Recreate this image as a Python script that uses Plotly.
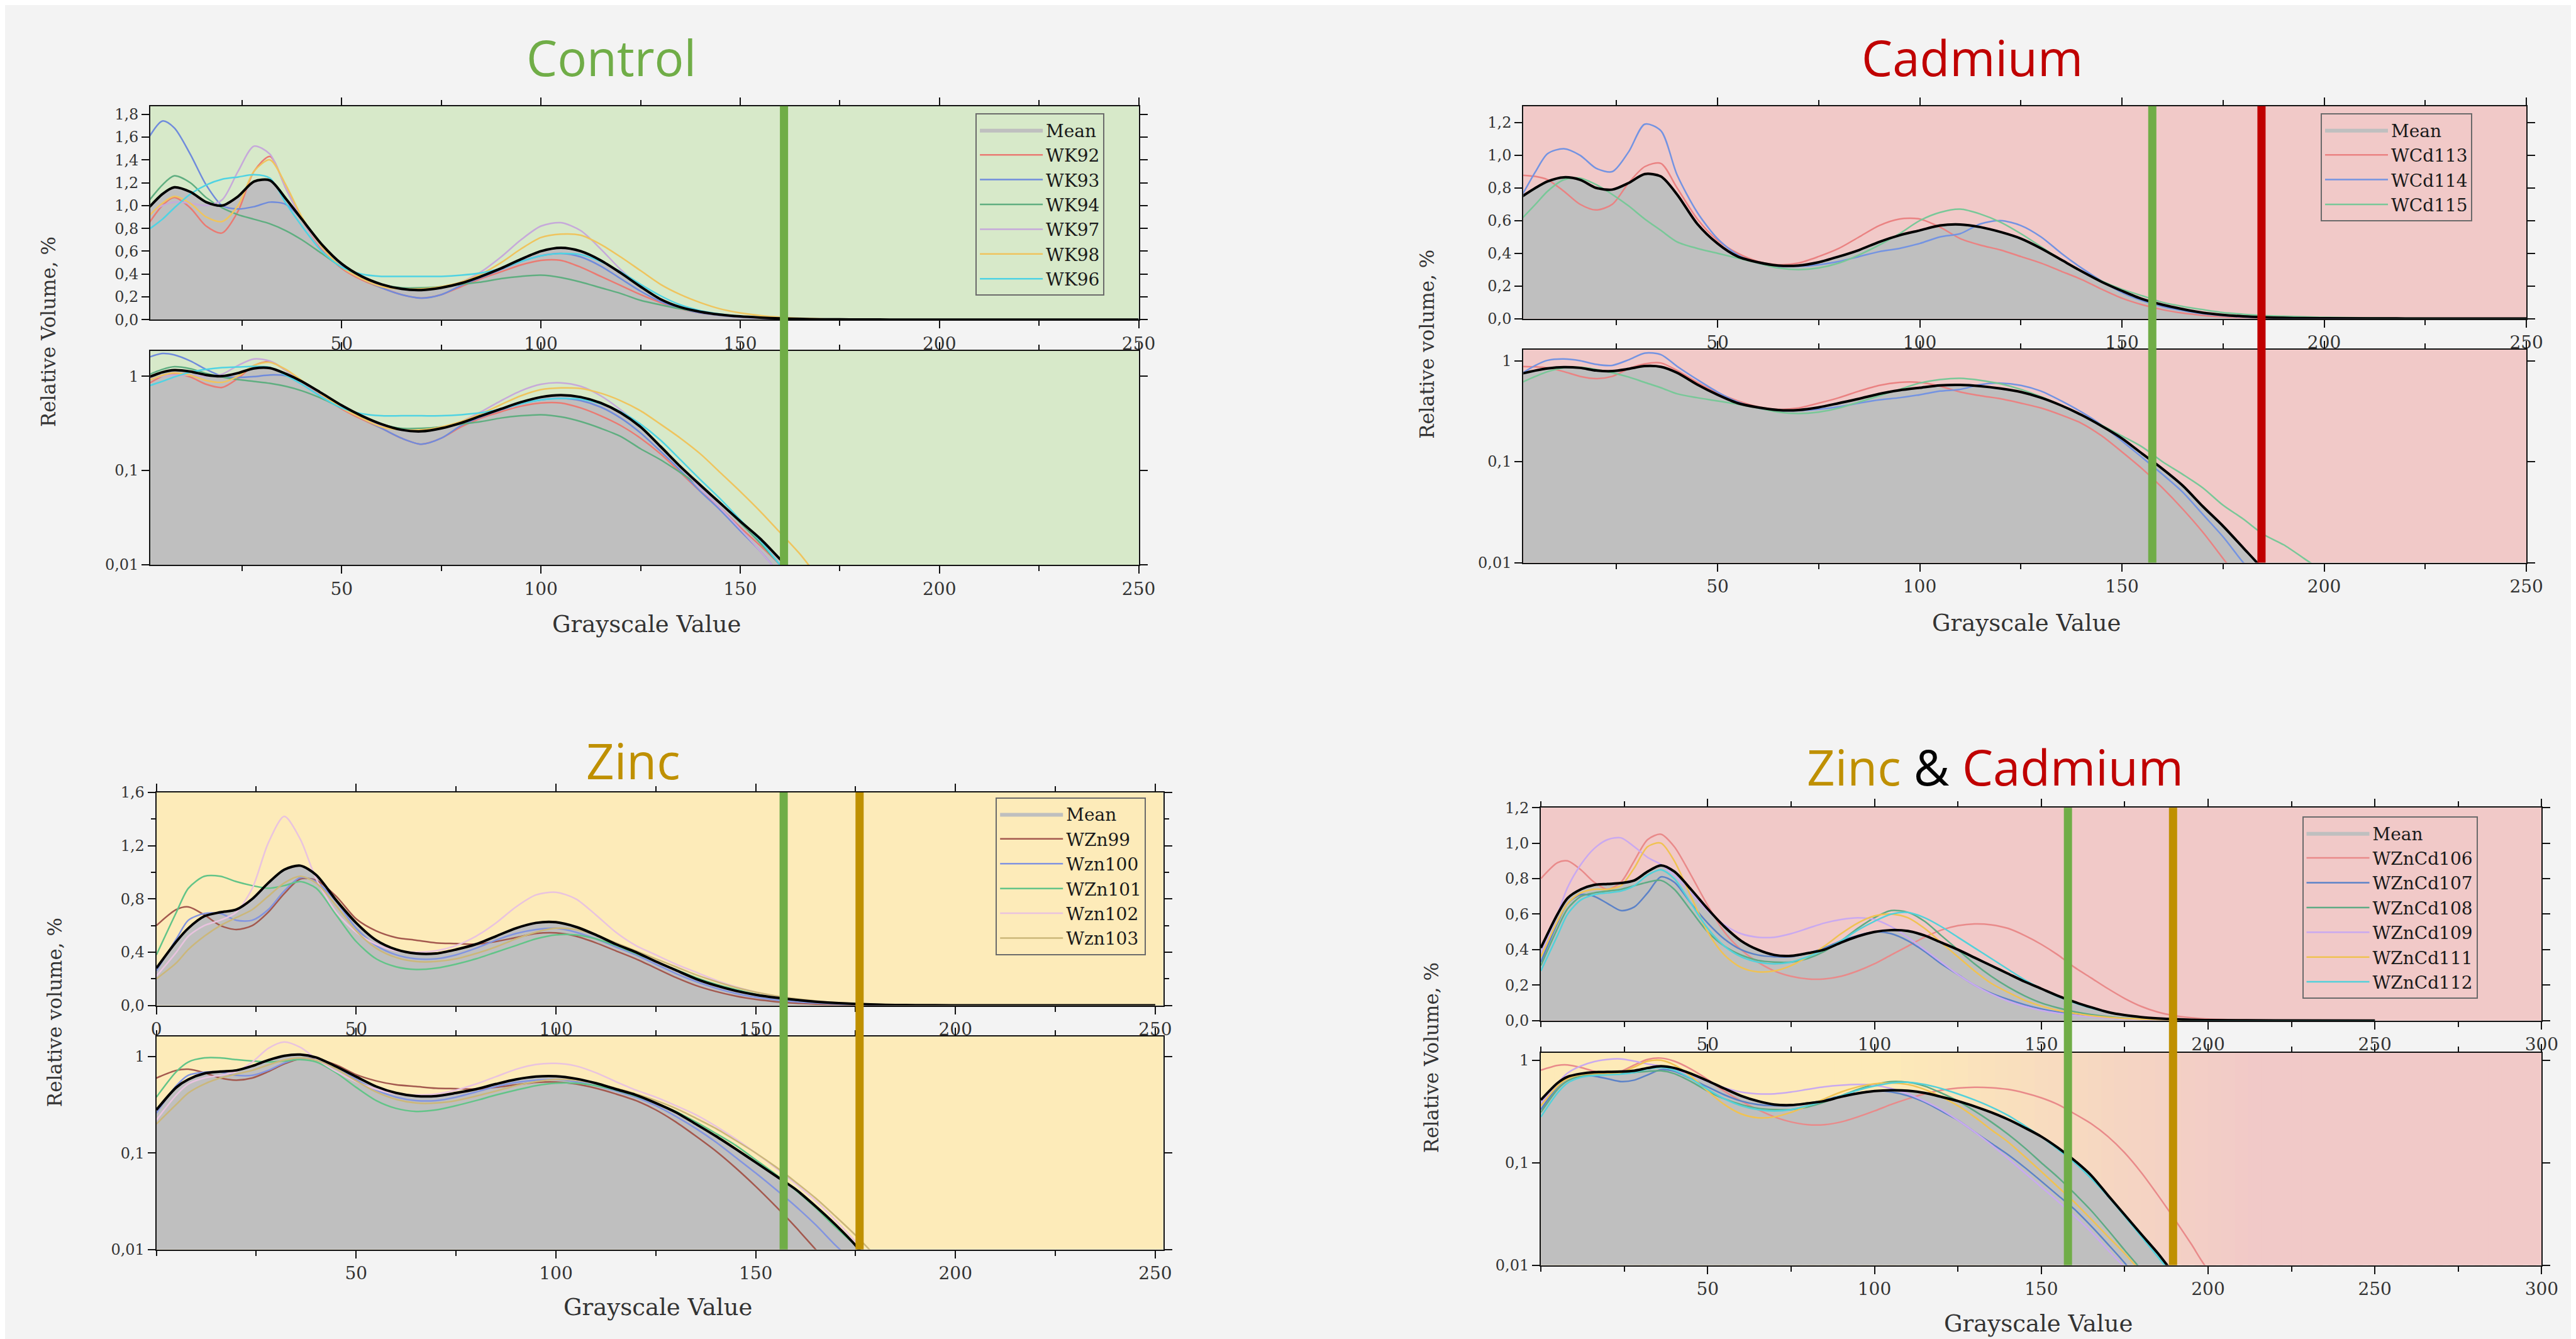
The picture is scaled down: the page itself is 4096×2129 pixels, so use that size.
import plotly.graph_objects as go

REF_W, REF_H = 4679, 2432
OUT_W, OUT_H = 4096, 2129

# ---------------- data ----------------
grayscale = [0, 5, 8, 12, 16, 20, 24, 28, 32, 36, 40, 45, 50, 55, 60, 65, 70, 75, 80, 85,
             90, 95, 100, 105, 110, 115, 120, 125, 130, 135, 140, 145, 150, 155, 160, 165,
             170, 175, 180, 185, 190, 195, 200, 220, 250]

# Control
control_names = ["WK92", "WK93", "WK94", "WK97", "WK98", "WK96"]
control_mean = [0.92, 1.10, 1.16, 1.12, 1.03, 1.00, 1.08, 1.21, 1.22, 1.06,
                0.88, 0.66, 0.49, 0.38, 0.31, 0.27, 0.26, 0.28, 0.32, 0.38,
                0.45, 0.53, 0.60, 0.63, 0.60, 0.52, 0.41, 0.29, 0.18, 0.11,
                0.07, 0.045, 0.029, 0.019, 0.0115, 0.007, 0.004, 0.003, 0.002, 0.0015,
                0.001, 0.0008, 0.0006, 0.0003, 0.0002]
wk92 = [0.76, 1.00, 1.07, 0.98, 0.82, 0.76, 0.95, 1.30, 1.43, 1.15,
        0.88, 0.62, 0.45, 0.35, 0.28, 0.22, 0.19, 0.22, 0.29, 0.36,
        0.42, 0.48, 0.52, 0.52, 0.46, 0.38, 0.30, 0.22, 0.15, 0.095,
        0.06, 0.04, 0.025, 0.016, 0.010, 0.006, 0.003, 0.002, 0.0015, 0.0012,
        0.001, 0.0007, 0.0005, 0.0003, 0.0002]
wk93 = [1.50, 1.74, 1.68, 1.45, 1.18, 1.00, 0.97, 0.99, 1.03, 1.01,
        0.88, 0.66, 0.48, 0.36, 0.28, 0.22, 0.19, 0.22, 0.30, 0.37,
        0.44, 0.51, 0.56, 0.58, 0.55, 0.47, 0.36, 0.25, 0.16, 0.10,
        0.06, 0.038, 0.023, 0.014, 0.008, 0.005, 0.003, 0.002, 0.0015, 0.0012,
        0.001, 0.0007, 0.0005, 0.0003, 0.0002]
wk94 = [0.97, 1.18, 1.26, 1.20, 1.07, 0.98, 0.92, 0.88, 0.84, 0.78,
        0.70, 0.58, 0.46, 0.37, 0.31, 0.28, 0.28, 0.29, 0.31, 0.33,
        0.36, 0.38, 0.39, 0.37, 0.33, 0.28, 0.23, 0.17, 0.13, 0.095,
        0.068, 0.045, 0.028, 0.017, 0.010, 0.006, 0.003, 0.002, 0.0015, 0.0012,
        0.001, 0.0007, 0.0005, 0.0003, 0.0002]
wk97 = [0.88, 1.00, 1.03, 1.02, 1.00, 1.05, 1.30, 1.52, 1.45, 1.15,
        0.88, 0.63, 0.46, 0.36, 0.30, 0.27, 0.26, 0.28, 0.33, 0.42,
        0.55, 0.70, 0.82, 0.85, 0.78, 0.62, 0.44, 0.29, 0.18, 0.11,
        0.065, 0.04, 0.024, 0.014, 0.008, 0.005, 0.003, 0.002, 0.0015, 0.0012,
        0.001, 0.0007, 0.0005, 0.0003, 0.0002]
wk98 = [0.85, 1.02, 1.08, 1.02, 0.90, 0.86, 1.00, 1.30, 1.40, 1.18,
        0.90, 0.64, 0.46, 0.36, 0.29, 0.27, 0.27, 0.29, 0.33, 0.40,
        0.50, 0.62, 0.72, 0.75, 0.74, 0.66, 0.55, 0.43, 0.31, 0.22,
        0.15, 0.095, 0.06, 0.037, 0.022, 0.013, 0.007, 0.004, 0.002, 0.0015,
        0.001, 0.0007, 0.0005, 0.0003, 0.0002]
wk96 = [0.75, 0.88, 0.98, 1.10, 1.18, 1.23, 1.25, 1.27, 1.24, 1.02,
        0.82, 0.60, 0.46, 0.40, 0.38, 0.38, 0.38, 0.38, 0.39, 0.41,
        0.45, 0.51, 0.56, 0.58, 0.57, 0.51, 0.42, 0.31, 0.21, 0.13,
        0.08, 0.05, 0.03, 0.018, 0.010, 0.006, 0.003, 0.002, 0.0015, 0.0012,
        0.001, 0.0007, 0.0005, 0.0003, 0.0002]

# Cadmium
cd_names = ["WCd113", "WCd114", "WCd115"]
cd_mean = [0.72, 0.80, 0.84, 0.865, 0.85, 0.80, 0.79, 0.83, 0.885, 0.87,
           0.76, 0.58, 0.46, 0.38, 0.345, 0.325, 0.325, 0.345, 0.38, 0.42,
           0.47, 0.51, 0.54, 0.57, 0.576, 0.56, 0.53, 0.49, 0.43, 0.36,
           0.29, 0.225, 0.17, 0.12, 0.085, 0.058, 0.036, 0.023, 0.014, 0.0085,
           0.005, 0.003, 0.002, 0.001, 0.0005]
wcd113 = [0.88, 0.87, 0.85, 0.78, 0.70, 0.665, 0.70, 0.83, 0.93, 0.95,
          0.80, 0.61, 0.48, 0.40, 0.35, 0.33, 0.34, 0.38, 0.43, 0.50,
          0.57, 0.61, 0.61, 0.56, 0.49, 0.45, 0.42, 0.38, 0.34, 0.29,
          0.24, 0.18, 0.125, 0.085, 0.055, 0.034, 0.020, 0.011, 0.006, 0.0035,
          0.002, 0.0012, 0.0008, 0.0004, 0.0002]
wcd114 = [0.68, 0.90, 1.01, 1.04, 1.00, 0.92, 0.90, 1.02, 1.19, 1.15,
          0.88, 0.65, 0.49, 0.39, 0.34, 0.32, 0.32, 0.33, 0.35, 0.38,
          0.41, 0.43, 0.46, 0.50, 0.52, 0.58, 0.60, 0.57, 0.50, 0.40,
          0.31, 0.23, 0.16, 0.11, 0.075, 0.05, 0.03, 0.018, 0.010, 0.006,
          0.0035, 0.002, 0.0012, 0.0005, 0.0002]
wcd115 = [0.57, 0.70, 0.78, 0.85, 0.86, 0.82, 0.76, 0.69, 0.61, 0.54,
          0.47, 0.43, 0.40, 0.37, 0.34, 0.31, 0.30, 0.31, 0.34, 0.39,
          0.45, 0.52, 0.60, 0.65, 0.67, 0.64, 0.59, 0.52, 0.44, 0.36,
          0.29, 0.23, 0.18, 0.14, 0.10, 0.075, 0.055, 0.037, 0.027, 0.019,
          0.015, 0.011, 0.008, 0.002, 0.0005]

# Zinc
zn_names = ["WZn99", "Wzn100", "WZn101", "Wzn102", "Wzn103"]
zn_mean = [0.28, 0.48, 0.58, 0.67, 0.70, 0.72, 0.80, 0.92, 1.02, 1.05,
           0.98, 0.79, 0.62, 0.49, 0.42, 0.39, 0.39, 0.42, 0.46, 0.52,
           0.58, 0.62, 0.625, 0.59, 0.53, 0.46, 0.40, 0.33, 0.265, 0.20,
           0.15, 0.11, 0.08, 0.058, 0.042, 0.028, 0.018, 0.011, 0.006, 0.0035,
           0.002, 0.0012, 0.0008, 0.0003, 0.0001]
wzn99 = [0.60, 0.72, 0.74, 0.68, 0.60, 0.57, 0.60, 0.70, 0.84, 0.95,
         0.94, 0.82, 0.65, 0.56, 0.51, 0.49, 0.47, 0.465, 0.46, 0.48,
         0.51, 0.54, 0.545, 0.52, 0.47, 0.41, 0.35, 0.28, 0.21, 0.15,
         0.105, 0.07, 0.045, 0.028, 0.017, 0.010, 0.006, 0.0035, 0.002, 0.0012,
         0.0008, 0.0005, 0.0004, 0.0002, 0.0001]
wzn100 = [0.26, 0.50, 0.64, 0.69, 0.69, 0.64, 0.64, 0.72, 0.86, 0.96,
          0.93, 0.78, 0.58, 0.45, 0.38, 0.35, 0.35, 0.38, 0.43, 0.49,
          0.54, 0.57, 0.58, 0.55, 0.50, 0.44, 0.38, 0.31, 0.24, 0.18,
          0.13, 0.09, 0.062, 0.042, 0.028, 0.018, 0.011, 0.007, 0.004, 0.0025,
          0.0015, 0.001, 0.0007, 0.0003, 0.0001]
wzn101 = [0.38, 0.70, 0.88, 0.97, 0.97, 0.93, 0.90, 0.88, 0.90, 0.93,
          0.88, 0.68, 0.48, 0.35, 0.29, 0.27, 0.28, 0.31, 0.35, 0.40,
          0.45, 0.50, 0.53, 0.53, 0.50, 0.45, 0.39, 0.33, 0.27, 0.21,
          0.16, 0.12, 0.085, 0.06, 0.041, 0.027, 0.017, 0.011, 0.0075, 0.004,
          0.0025, 0.0015, 0.001, 0.0004, 0.0001]
wzn102 = [0.22, 0.40, 0.52, 0.60, 0.64, 0.70, 0.88, 1.22, 1.42, 1.25,
          0.95, 0.70, 0.55, 0.46, 0.41, 0.40, 0.41, 0.45, 0.52, 0.62,
          0.74, 0.83, 0.85, 0.80, 0.68, 0.55, 0.45, 0.38, 0.31, 0.25,
          0.19, 0.14, 0.10, 0.07, 0.048, 0.032, 0.02, 0.012, 0.007, 0.004,
          0.0025, 0.0015, 0.001, 0.0004, 0.0001]
wzn103 = [0.20, 0.32, 0.42, 0.52, 0.60, 0.66, 0.72, 0.82, 0.92, 0.97,
          0.92, 0.75, 0.56, 0.43, 0.36, 0.33, 0.33, 0.35, 0.39, 0.44,
          0.50, 0.55, 0.58, 0.57, 0.53, 0.47, 0.41, 0.35, 0.29, 0.23,
          0.18, 0.135, 0.10, 0.072, 0.05, 0.034, 0.022, 0.014, 0.0085, 0.005,
          0.003, 0.002, 0.0012, 0.0004, 0.0001]

# Zinc & Cadmium
zncd_names = ["WZnCd106", "WZnCd107", "WZnCd108", "WZnCd109", "WZnCd111", "WZnCd112"]
zncd_mean = [0.41, 0.60, 0.69, 0.74, 0.765, 0.77, 0.775, 0.79, 0.84, 0.875,
             0.84, 0.74, 0.63, 0.53, 0.45, 0.40, 0.37, 0.365, 0.38, 0.40,
             0.44, 0.475, 0.50, 0.51, 0.505, 0.48, 0.44, 0.40, 0.355, 0.31,
             0.265, 0.22, 0.18, 0.14, 0.105, 0.075, 0.048, 0.031, 0.020, 0.013,
             0.008, 0.005, 0.003, 0.001, 0.0003]
wzncd106 = [0.80, 0.89, 0.90, 0.85, 0.78, 0.74, 0.78, 0.90, 1.02, 1.05,
            0.98, 0.82, 0.65, 0.50, 0.40, 0.33, 0.28, 0.25, 0.235, 0.235,
            0.25, 0.28, 0.32, 0.37, 0.42, 0.47, 0.51, 0.535, 0.545, 0.54,
            0.52, 0.48, 0.43, 0.37, 0.30, 0.24, 0.18, 0.125, 0.08, 0.048,
            0.028, 0.016, 0.009, 0.002, 0.0005]
wzncd107 = [0.33, 0.55, 0.66, 0.71, 0.70, 0.66, 0.62, 0.64, 0.72, 0.81,
            0.78, 0.66, 0.55, 0.46, 0.40, 0.37, 0.36, 0.36, 0.38, 0.41,
            0.45, 0.48, 0.50, 0.49, 0.45, 0.39, 0.32, 0.26, 0.20, 0.155,
            0.12, 0.09, 0.066, 0.048, 0.035, 0.024, 0.016, 0.0105, 0.0065, 0.004,
            0.0025, 0.0015, 0.001, 0.0003, 0.0001]
wzncd108 = [0.31, 0.52, 0.63, 0.70, 0.72, 0.73, 0.74, 0.76, 0.78, 0.79,
            0.74, 0.62, 0.50, 0.42, 0.37, 0.34, 0.33, 0.33, 0.35, 0.39,
            0.45, 0.52, 0.58, 0.62, 0.61, 0.56, 0.48, 0.40, 0.32, 0.25,
            0.19, 0.14, 0.10, 0.072, 0.05, 0.034, 0.022, 0.014, 0.009, 0.0055,
            0.0035, 0.002, 0.0012, 0.0004, 0.0001]
wzncd109 = [0.38, 0.60, 0.75, 0.88, 0.97, 1.02, 1.03, 0.98, 0.92, 0.88,
            0.82, 0.72, 0.62, 0.54, 0.49, 0.47, 0.47, 0.49, 0.52, 0.55,
            0.57, 0.58, 0.57, 0.53, 0.47, 0.40, 0.33, 0.26, 0.20, 0.15,
            0.11, 0.08, 0.058, 0.042, 0.030, 0.021, 0.014, 0.0095, 0.006, 0.004,
            0.0025, 0.0015, 0.001, 0.0003, 0.0001]
wzncd111 = [0.36, 0.56, 0.66, 0.72, 0.74, 0.74, 0.76, 0.86, 0.98, 1.00,
            0.90, 0.70, 0.50, 0.37, 0.30, 0.275, 0.28, 0.31, 0.36, 0.42,
            0.49, 0.55, 0.59, 0.60, 0.58, 0.52, 0.44, 0.36, 0.28, 0.21,
            0.16, 0.115, 0.082, 0.058, 0.041, 0.028, 0.019, 0.013, 0.0085, 0.0055,
            0.0035, 0.002, 0.0012, 0.0004, 0.0001]
wzncd112 = [0.28, 0.48, 0.60, 0.68, 0.71, 0.72, 0.73, 0.76, 0.82, 0.85,
            0.80, 0.66, 0.52, 0.42, 0.36, 0.33, 0.32, 0.33, 0.36, 0.40,
            0.45, 0.51, 0.56, 0.60, 0.61, 0.58, 0.53, 0.47, 0.41, 0.35,
            0.29, 0.23, 0.18, 0.135, 0.10, 0.07, 0.047, 0.03, 0.019, 0.012,
            0.0075, 0.0045, 0.0028, 0.0008, 0.0002]

# threshold lines (grayscale value)
control_lines = [161]
cd_lines = [157.5, 184.5]
zn_lines = [157, 176]
zncd_lines = [158, 189.5]

x_ticks_250 = [50, 100, 150, 200, 250]
x_ticks_250_zero = [0, 50, 100, 150, 200, 250]
x_ticks_300 = [50, 100, 150, 200, 250, 300]
log_ticks = [0.01, 0.1, 1]
log_tick_text = ["0,01", "0,1", "1"]

# ---------------- style ----------------
GREEN, RED, GOLD = "#70ad47", "#c00000", "#bf9000"
SERIF = "DejaVu Serif"
TITLE_FONT = "Open Sans"
TXT = "#333333"


def fx(px):
    return px / REF_W


def fy(py):
    return 1 - py / REF_H


panels = [
    dict(title="<span style='color:%s'>Control</span>" % GREEN, tx=1101, ty=80,
         xpx=(256, 2067), top=(170, 563), bot=(620, 1014), xr=[2, 250],
         xt_top=x_ticks_250, xt_bot=x_ticks_250,
         ylin=[0, 1.87], ylin_dtick=0.2, ylin_minor=None, ylog=[-2, 0.27],
         bg="#d7e9c9", mean=control_mean,
         series=[wk92, wk93, wk94, wk97, wk98, wk96], names=control_names,
         colors=["#ea7a72", "#6f8bdc", "#5fae80", "#c6a9da", "#efc45e", "#4fd3e3"],
         lines=control_lines, line_colors=[GREEN],
         leg=(1768, 183), ytitle="Relative Volume, %", ytx=70, yty=585,
         xtx=1165, xty=1123),
    dict(title="<span style='color:%s'>Cadmium</span>" % RED, tx=3594, ty=80,
         xpx=(2772, 4610), top=(170, 561), bot=(618, 1010), xr=[2, 250],
         xt_top=x_ticks_250, xt_bot=x_ticks_250,
         ylin=[0, 1.3], ylin_dtick=0.2, ylin_minor=None, ylog=[-2, 0.11],
         bg="#f1c9c8", mean=cd_mean,
         series=[wcd113, wcd114, wcd115], names=cd_names,
         colors=["#ea8282", "#7393e2", "#78c898"],
         lines=cd_lines, line_colors=[GREEN, RED],
         leg=(4233, 183), ytitle="Relative volume, %", ytx=2596, yty=608,
         xtx=3694, xty=1121),
    dict(title="<span style='color:%s'>Zinc</span>" % GOLD, tx=1141, ty=1374,
         xpx=(267, 2112), top=(1433, 1825), bot=(1882, 2274), xr=[0, 252],
         xt_top=x_ticks_250_zero, xt_bot=x_ticks_250,
         ylin=[0, 1.6], ylin_dtick=0.4, ylin_minor=0.2, ylog=[-2, 0.21],
         bg="#fdebb9", mean=zn_mean,
         series=[wzn99, wzn100, wzn101, wzn102, wzn103], names=zn_names,
         colors=["#a3584e", "#8294e0", "#62c488", "#e9c3df", "#cbb77a"],
         lines=zn_lines, line_colors=[GREEN, GOLD],
         leg=(1805, 1442), ytitle="Relative volume, %", ytx=81, yty=1838,
         xtx=1186, xty=2381),
    dict(title="<span style='color:%s'>Zinc</span> <span style='color:#000000'>&amp;</span> "
               "<span style='color:%s'>Cadmium</span>" % (GOLD, RED), tx=3637, ty=1386,
         xpx=(2804, 4638), top=(1461, 1853), bot=(1912, 2303), xr=[0, 300],
         xt_top=x_ticks_300, xt_bot=x_ticks_300,
         ylin=[0, 1.2], ylin_dtick=0.2, ylin_minor=None, ylog=[-2, 0.074],
         bg="#f1c9c8", mean=zncd_mean,
         series=[wzncd106, wzncd107, wzncd108, wzncd109, wzncd111, wzncd112], names=zncd_names,
         colors=["#e98a8a", "#5b82c8", "#5eab84", "#c9a9f0", "#f0c252", "#52d1da"],
         lines=zncd_lines, line_colors=[GREEN, GOLD],
         leg=(4199, 1477), ytitle="Relative Volume, %", ytx=2603, yty=1921,
         xtx=3715, xty=2411, gradient=True),
]

fig = go.Figure()
layout = dict(
    width=OUT_W, height=OUT_H, autosize=False,
    margin=dict(l=0, r=0, t=0, b=0, pad=0),
    paper_bgcolor="#f3f3f3", plot_bgcolor="rgba(0,0,0,0)",
    separators=",.", showlegend=True,
)
shapes, annotations = [], []

axis_common = dict(showgrid=False, zeroline=False, showline=True, linecolor="#111111",
                   linewidth=2, mirror="ticks", ticks="outside", tickcolor="#111111",
                   tickwidth=2, ticklen=12)

for pi, p in enumerate(panels):
    nt, nb = 2 * pi + 1, 2 * pi + 2
    leg_name = "legend" if pi == 0 else "legend%d" % (pi + 1)
    for n, ypx, is_log in ((nt, p["top"], False), (nb, p["bot"], True)):
        xa = "x" if n == 1 else "x%d" % n
        ya = "y" if n == 1 else "y%d" % n
        xkey = "xaxis" if n == 1 else "xaxis%d" % n
        ykey = "yaxis" if n == 1 else "yaxis%d" % n
        layout[xkey] = dict(axis_common, domain=[fx(p["xpx"][0]), fx(p["xpx"][1])],
                            range=p["xr"], anchor=ya, tickmode="array",
                            tickvals=p["xt_bot"] if is_log else p["xt_top"],
                            tickfont=dict(family=SERIF, size=28, color=TXT),
                            minor=dict(dtick=25, tick0=0, ticks="outside", ticklen=8,
                                       tickcolor="#111111", tickwidth=2))
        ydict = dict(axis_common, domain=[fy(ypx[1]), fy(ypx[0])], anchor=xa,
                     tickfont=dict(family=SERIF, size=24, color=TXT))
        if is_log:
            ydict.update(type="log", range=p["ylog"], tickmode="array",
                         tickvals=log_ticks, ticktext=log_tick_text)
        else:
            ydict.update(range=p["ylin"], dtick=p["ylin_dtick"], tick0=0, tickformat=".1f")
            if p["ylin_minor"]:
                ydict["minor"] = dict(dtick=p["ylin_minor"], ticks="outside", ticklen=7,
                                      tickcolor="#111111", tickwidth=2)
        layout[ykey] = ydict

        # background
        if is_log and p.get("gradient"):
            step = 4
            x = p["xr"][0]
            while x < p["xr"][1]:
                t = min(max((x + step / 2 - 105) / 110.0, 0), 1)
                c0, c1 = (253, 234, 184), (241, 201, 200)
                col = "rgb(%d,%d,%d)" % tuple(round(a + (b - a) * t) for a, b in zip(c0, c1))
                shapes.append(dict(type="rect", xref=xa, yref=ya + " domain", x0=x,
                                   x1=min(x + step * 1.6, p["xr"][1]),
                                   y0=0, y1=1, fillcolor=col, line=dict(width=0), layer="below"))
                x += step
        else:
            shapes.append(dict(type="rect", xref=xa + " domain", yref=ya + " domain",
                               x0=0, x1=1, y0=0, y1=1, fillcolor=p["bg"],
                               line=dict(width=0), layer="below"))

        # mean fill
        fig.add_trace(go.Scatter(x=grayscale, y=p["mean"], xaxis=xa, yaxis=ya, name="Mean",
                                 mode="lines", fill="tozeroy", fillcolor="#bfbfbf",
                                 line=dict(width=0, color="#9a9a9a", shape="spline", smoothing=0.8),
                                 legend=leg_name, showlegend=not is_log))
        for s, nm, col in zip(p["series"], p["names"], p["colors"]):
            fig.add_trace(go.Scatter(x=grayscale, y=s, xaxis=xa, yaxis=ya, name=nm, mode="lines",
                                     line=dict(width=2.5, color=col, shape="spline", smoothing=0.8),
                                     legend=leg_name, showlegend=not is_log))
        fig.add_trace(go.Scatter(x=grayscale, y=p["mean"], xaxis=xa, yaxis=ya, name="Mean line",
                                 mode="lines",
                                 line=dict(width=4, color="#000000", shape="spline", smoothing=0.8),
                                 legend=leg_name, showlegend=False))

    # threshold lines spanning both plots
    xa_top = "x" if nt == 1 else "x%d" % nt
    for xv, lc in zip(p["lines"], p["line_colors"]):
        shapes.append(dict(type="line", xref=xa_top, yref="paper", x0=xv, x1=xv,
                           y0=fy(p["bot"][1]), y1=fy(p["top"][0]),
                           line=dict(color=lc, width=13), layer="above"))

    # legend
    layout[leg_name] = dict(x=fx(p["leg"][0]), y=fy(p["leg"][1]), xanchor="left", yanchor="top",
                            bgcolor="rgba(0,0,0,0)", bordercolor="#6a6a6a", borderwidth=2,
                            font=dict(family=SERIF, size=28, color="#1a1a1a"),
                            itemwidth=100, tracegroupgap=0)

    # texts
    annotations.append(dict(text=p["title"], x=fx(p["tx"]), y=fy(p["ty"]), xref="paper", yref="paper",
                            xanchor="center", yanchor="middle", showarrow=False,
                            font=dict(family=TITLE_FONT, size=78)))
    annotations.append(dict(text=p["ytitle"], x=fx(p["ytx"]), y=fy(p["yty"]), xref="paper",
                            yref="paper", xanchor="center", yanchor="middle", textangle=-90,
                            showarrow=False, font=dict(family=SERIF, size=31, color=TXT)))
    annotations.append(dict(text="Grayscale Value", x=fx(p["xtx"]), y=fy(p["xty"]), xref="paper",
                            yref="paper", xanchor="center", yanchor="middle", showarrow=False,
                            font=dict(family=SERIF, size=37, color=TXT)))

layout["shapes"] = shapes
layout["annotations"] = annotations
fig.update_layout(**layout)
fig.write_html("out.html")
